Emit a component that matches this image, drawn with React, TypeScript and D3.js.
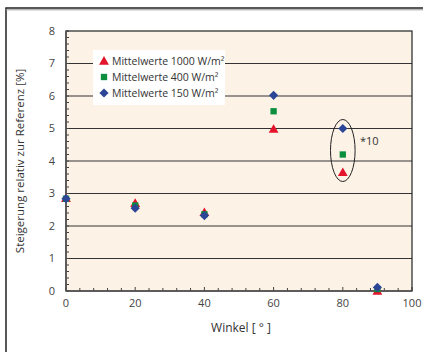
import React from "react";
import * as d3 from "d3";

const angles = [0, 20, 40, 60, 80, 90];
const series1000 = [2.85, 2.7, 2.42, 4.98, 3.65, 0.0];
const series400 = [2.84, 2.63, 2.36, 5.53, 4.2, 0.06];
const series150 = [2.84, 2.55, 2.32, 6.02, 5.0, 0.11];
const xTicks = [0, 20, 40, 60, 80, 100];
const yTicks = [0, 1, 2, 3, 4, 5, 6, 7, 8];
const legendLabels = ["Mittelwerte 1000 W/m²", "Mittelwerte 400 W/m²", "Mittelwerte 150 W/m²"];

const W = 423, H = 352;
const M = { left: 66, top: 31, right: 412, bottom: 291 };
const FONT = "'Open Sans', 'DejaVu Sans', sans-serif";

export default function App() {
  const x = d3.scaleLinear().domain([0, 100]).range([M.left, M.right]);
  const y = d3.scaleLinear().domain([0, 8]).range([M.bottom, M.top]);
  const minorX = d3.range(0, 101, 4);
  const minorY = d3.range(0, 8.01, 0.2);

  const tri = d3.symbol().type(d3.symbolTriangle).size(42)();
  const sq = d3.symbol().type(d3.symbolSquare).size(40)();
  const diaPath = d3.path();
  diaPath.moveTo(0, -4.6); diaPath.lineTo(4.6, 0); diaPath.lineTo(0, 4.6); diaPath.lineTo(-4.6, 0); diaPath.closePath();
  const dia = diaPath.toString();

  const series = [
    { vals: series1000, path: tri, color: "#e3142c", dy: 0.8 },
    { vals: series400, path: sq, color: "#0a8f3e", dy: 0 },
    { vals: series150, path: dia, color: "#2b4597", dy: 0 },
  ];

  return (
    <svg width={W} height={H} style={{ position: "absolute", left: 0, top: 0, background: "#fff" }}>
      <rect x={6} y={8} width={440} height={370} fill="#fff" stroke="#222" strokeWidth={1.5} />
      <line x1={6} x2={423} y1={9.8} y2={9.8} stroke="#999" strokeWidth={1} />
      <rect x={M.left} y={M.top} width={M.right - M.left} height={M.bottom - M.top} fill="#fdf2e6" />
      {yTicks.filter(t => t > 0 && t < 8).map(t => (
        <line key={"g" + t} x1={M.left} x2={M.right} y1={y(t)} y2={y(t)} stroke="#333" strokeWidth={1.2} />
      ))}
      {minorY.map((t, i) => (
        <line key={"my" + i} x1={M.left} x2={M.left + 3} y1={y(t)} y2={y(t)} stroke="#444" strokeWidth={1} />
      ))}
      {minorX.map((t, i) => (
        <line key={"mx" + i} x1={x(t)} x2={x(t)} y1={M.bottom} y2={M.bottom - (t % 20 === 0 ? 4 : 3)} stroke="#444" strokeWidth={1} />
      ))}
      <rect x={M.left} y={M.top} width={M.right - M.left} height={M.bottom - M.top} fill="none" stroke="#222" strokeWidth={1.2} />
      <line x1={M.left} x2={M.right} y1={M.bottom} y2={M.bottom} stroke="#555" strokeWidth={1.5} />
      <line x1={M.left} x2={M.left} y1={M.top} y2={M.bottom} stroke="#555" strokeWidth={1.5} />
      {yTicks.map(t => (
        <text key={"yl" + t} x={55} y={y(t)} dy="0.35em" textAnchor="end" fontFamily={FONT} fontSize={11} fill="#444">{t}</text>
      ))}
      {xTicks.map(t => (
        <text key={"xl" + t} x={x(t)} y={307} textAnchor="middle" fontFamily={FONT} fontSize={11} fill="#444">{t}</text>
      ))}
      <text transform={`translate(24,${(M.top + M.bottom) / 2}) rotate(-90)`} textAnchor="middle" fontFamily={FONT} fontSize={11.5} fill="#333">
        Steigerung relativ zur Referenz [%]
      </text>
      <text x={241} y={332} textAnchor="middle" fontFamily={FONT} fontSize={12} fill="#333">Winkel [ ° ]</text>

      <rect x={93} y={50} width={132} height={55} fill="#fff" />
      {legendLabels.map((l, i) => (
        <g key={"lg" + i} transform={`translate(0,${61 + i * 16})`}>
          <path d={series[i].path} transform={`translate(104,${series[i].dy})`} fill={series[i].color} />
          <text x={112} y={0} dy="0.35em" fontFamily={FONT} fontSize={10.5} fill="#333">{l}</text>
        </g>
      ))}

      {series.map((s, si) =>
        s.vals.map((v, i) => (
          <path key={`p${si}-${i}`} d={s.path} transform={`translate(${x(angles[i])},${y(v) + s.dy})`} fill={s.color} />
        ))
      )}

      <ellipse cx={x(80)} cy={150.5} rx={12.3} ry={31} fill="none" stroke="#222" strokeWidth={1} />
      <text x={360} y={145} fontFamily={FONT} fontSize={11} fill="#333">*10</text>
    </svg>
  );
}
